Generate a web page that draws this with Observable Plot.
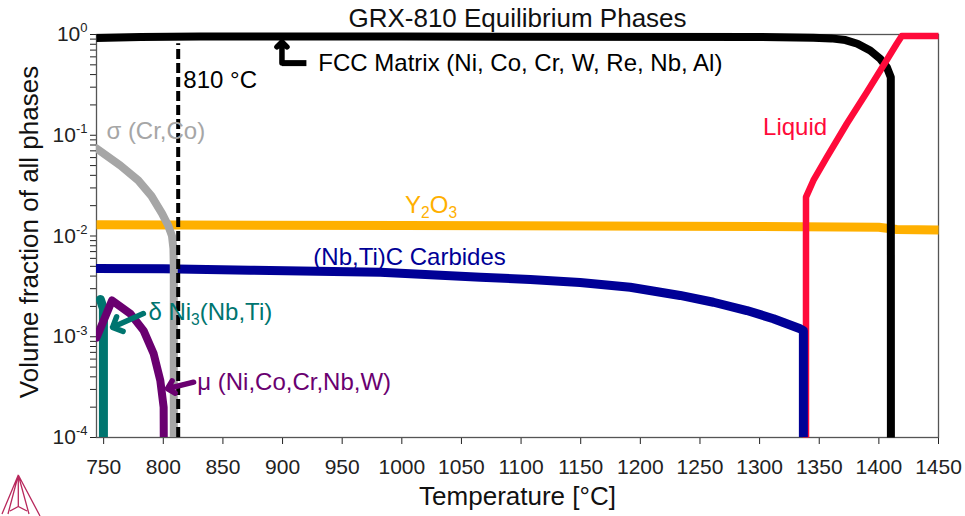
<!DOCTYPE html>
<html><head><meta charset="utf-8">
<script src="https://cdn.jsdelivr.net/npm/d3@7"></script>
<script src="https://cdn.jsdelivr.net/npm/@observablehq/plot@0.6"></script>
<style>
body{margin:0;background:#fff;}
#chart{position:relative;width:965px;height:516px;overflow:hidden;}
#logo{position:absolute;left:0;top:460px;}
</style></head><body>
<div id="chart"></div>
<script>
// ---- data: [temperature °C, volume fraction] ----
const fccMatrix = [[744,0.923],[781,0.944],[831,0.955],[1000,0.955],[1300,0.945],[1345,0.93],[1360,0.915],[1372,0.88],[1382,0.81],[1392.7,0.694],[1401.1,0.574],[1406.7,0.474],[1410,0.377],[1410.1,0.0001]];
const liquid = [[1338.9,0.0001],[1338.9,0.0243],[1345.1,0.0356],[1356.4,0.0605],[1373.1,0.130],[1389.9,0.267],[1403.8,0.493],[1415,0.809],[1419.2,0.965],[1450,0.965]];
const y2o3 = [[744,0.0129],[1000,0.0127],[1300,0.0124],[1400,0.0122],[1415,0.0116],[1450,0.0115]];
const carbides = [[744,0.00476],[800,0.00472],[873,0.00458],[982,0.00437],[1066,0.0039],[1107.7,0.0037],[1149.5,0.00345],[1191.5,0.0031],[1233.3,0.00257],[1261.3,0.0022],[1289.3,0.00182],[1311.6,0.00151],[1334,0.0012],[1336.7,0.00115],[1336.7,0.0001]];
const sigma = [[744,0.0739],[764,0.0501],[779,0.0356],[790,0.025],[799,0.0167],[804,0.0128],[807.3,0.0100],[808.5,0.0075],[808.8,0.005],[808.8,0.0001]];
const delta = [[747.3,0.00234],[749.8,0.0019],[749.8,0.0001]];
const mu = [[744,0.00098],[757,0.00229],[772.4,0.00169],[783.5,0.00115],[791.9,0.00068],[797.5,0.000368],[800.3,0.0002],[800.4,0.0001]];
const markerTemp = [812.5];

const seriesNames = ["Y2O3","FCC","Liquid","Carbides","Sigma","Delta","Mu"];
const seriesData = [y2o3, fccMatrix, liquid, carbides, sigma, delta, mu];
const seriesColors = ["#ffb000","#000000","#ff0a3a","#000096","#a6a6a6","#00756f","#6a0070"];
const seriesWidths = [9, 8, 6.5, 9, 8, 9, 8];
const seriesCaps = ["butt","butt","butt","round","round","round","round"];

// annotations
const annoText = ["810 °C","σ (Cr,Co)","FCC Matrix (Ni, Co, Cr, W, Re, Nb, Al)","Liquid","Y_{2}O_{3}","(Nb,Ti)C Carbides","δ Ni_{3}(Nb,Ti)","μ (Ni,Co,Cr,Nb,W)"];
const annoT = [816.8, 752.3, 930, 1302.9, 1002.7, 925.8, 787.5, 828.5];
const annoV = [0.3495, 0.1089, 0.5155, 0.1194, 0.0201, 0.00612, 0.00174, 0.000352];
const annoColor = ["#000000","#a6a6a6","#000000","#ff0a3a","#ffb000","#000096","#00756f","#6a0070"];

// arrows [T1, v1, T2, v2]
const arrowsData = [[899.5,0.52,899.5,0.845,"#000000"],[783.3,0.0017,757.5,0.00124,"#00756f"],[825.4,0.000354,803.5,0.000306,"#6a0070"]];
const fccHook = [[899.5,0.52],[920,0.52]];

const xTicks = d3.range(750, 1451, 50);
const yTicks = [];
for (let e = -4; e <= 0; e++) for (let k = 1; k <= 9; k++) { if (e === 0 && k > 1) break; yTicks.push(+(k * Math.pow(10, e)).toPrecision(6)); }

// ---- build tables ----
const lineMarks = seriesNames.map((name, i) => Plot.line(
  seriesData[i].map(([T, v]) => ({T, v})),
  {x: "T", y: "v", stroke: seriesColors[i], strokeWidth: seriesWidths[i], strokeLinecap: seriesCaps[i], strokeLinejoin: "round", clip: seriesCaps[i] === "round"}
));
const annos = annoText.map((t, i) => ({text: t, T: annoT[i], v: annoV[i], color: annoColor[i]}));
const arrows = arrowsData.map(([x1, y1, x2, y2, c]) => ({x1, y1, x2, y2, c}));

const chart = Plot.plot({
  width: 965, height: 516,
  marginTop: 34, marginRight: 27, marginBottom: 79, marginLeft: 96,
  style: {fontFamily: "'Liberation Sans', Arial, sans-serif", fontSize: "21px", color: "#222", background: "#fff"},
  x: {domain: [744, 1450], ticks: xTicks, tickSize: 7, tickPadding: 15, tickFormat: d => String(d), label: null},
  y: {type: "log", domain: [1e-4, 1], ticks: yTicks, tickSize: 6, tickPadding: 3,
      tickFormat: d => { const l = Math.log10(d); return Math.abs(l - Math.round(l)) < 1e-9 ? `10^{${Math.round(l)}}` : ""; }, label: null},
  marks: [
    Plot.frame({stroke: "#555", strokeWidth: 1.3}),
    ...lineMarks,
    Plot.ruleX(markerTemp.map(T => ({T, lo: 1e-4, hi: 0.81})), {x: "T", y1: "lo", y2: "hi", stroke: "#000", strokeWidth: 4, strokeDasharray: "10,4"}),
    Plot.line(fccHook.map(([T, v]) => ({T, v})), {x: "T", y: "v", stroke: "#000", strokeWidth: 6, strokeLinecap: "butt"}),
    Plot.arrow(arrows, {x1: "x1", y1: "y1", x2: "x2", y2: "y2", stroke: "c", strokeWidth: 5.5, headLength: 3.5, headAngle: 90}),
    Plot.text(annos, {x: "T", y: "v", text: "text", fill: "color", textAnchor: "start", lineAnchor: "middle", fontSize: 24}),
    Plot.text(["GRX-810 Equilibrium Phases"], {frameAnchor: "top", dy: -16, fontSize: 26, fill: "#111", lineAnchor: "middle"}),
    Plot.text(["Temperature [°C]"], {frameAnchor: "bottom", dy: 59, fontSize: 26, fill: "#111", lineAnchor: "middle"}),
    Plot.text(["Volume fraction of all phases"], {frameAnchor: "left", dx: -67, dy: -4, rotate: -90, textAnchor: "middle", fontSize: 26, fill: "#111", lineAnchor: "middle"})
  ]
});
document.getElementById("chart").appendChild(chart);

// rich text: ^{...} superscript, _{...} subscript
const NS = "http://www.w3.org/2000/svg";
chart.querySelectorAll("text").forEach(el => {
  const s = el.textContent;
  if (!/[\^_]\{/.test(s)) return;
  const fs = parseFloat(getComputedStyle(el).fontSize) || 21;
  const parts = s.split(/([\^_]\{[^}]*\})/).filter(p => p.length);
  while (el.firstChild) el.removeChild(el.firstChild);
  let shift = 0;
  parts.forEach(p => {
    const ts = document.createElementNS(NS, "tspan");
    let target = 0, txt = p;
    if (p.startsWith("^{")) { target = -0.42 * fs; txt = p.slice(2, -1); ts.setAttribute("font-size", 0.62 * fs); }
    else if (p.startsWith("_{")) { target = 0.22 * fs; txt = p.slice(2, -1); ts.setAttribute("font-size", 0.65 * fs); }
    ts.setAttribute("dy", target - shift);
    shift = target;
    ts.textContent = txt;
    el.appendChild(ts);
  });
});
</script>
<svg id="logo" width="50" height="56" viewBox="0 460 50 56">
  <g fill="none" stroke="#b8285c" stroke-width="1.3" stroke-linejoin="round">
    <path d="M18.3,475 L2,514 M18.3,475 L8,514 M18.3,475 L18.3,507 M18.3,475 L29,514 M18.3,475 L40,516 M10,511 L18.3,506.5 L27,511"/>
  </g>
</svg>
</body></html>
